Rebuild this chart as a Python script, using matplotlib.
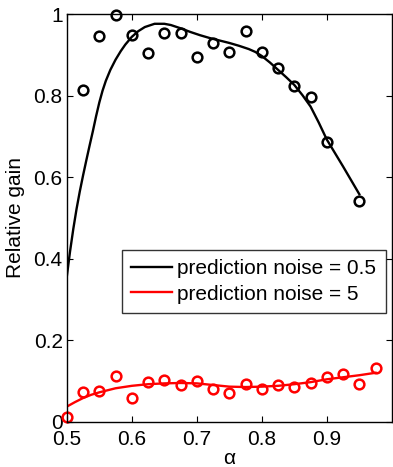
import matplotlib
matplotlib.use("Agg")
import matplotlib.pyplot as plt

plt.rcParams['font.family'] = ['Liberation Sans', 'DejaVu Sans']

# Scatter data
alpha_black = [0.525, 0.55, 0.575, 0.6, 0.625, 0.65, 0.675, 0.7, 0.725, 0.75,
               0.775, 0.8, 0.825, 0.85, 0.875, 0.9, 0.95]
gain_black = [0.814, 0.947, 0.998, 0.948, 0.904, 0.953, 0.953, 0.894, 0.929, 0.908,
              0.959, 0.906, 0.868, 0.823, 0.796, 0.686, 0.541]

alpha_red = [0.5, 0.525, 0.55, 0.575, 0.6, 0.625, 0.65, 0.675, 0.7, 0.725, 0.75,
             0.775, 0.8, 0.825, 0.85, 0.875, 0.9, 0.925, 0.95, 0.975]
gain_red = [0.012, 0.074, 0.076, 0.111, 0.057, 0.097, 0.102, 0.091, 0.100, 0.080, 0.071,
            0.092, 0.079, 0.089, 0.086, 0.095, 0.110, 0.117, 0.092, 0.132]

# Fitted curves
fit_x_black = [0.50, 0.505, 0.51, 0.515, 0.52, 0.525, 0.53, 0.535, 0.54, 0.545, 0.55,
               0.555, 0.56, 0.567, 0.575, 0.583, 0.59, 0.60, 0.61, 0.62, 0.635, 0.65,
               0.66, 0.675, 0.69, 0.705, 0.72, 0.735, 0.75, 0.765, 0.78,
               0.79, 0.80, 0.8125, 0.825, 0.8375, 0.85, 0.8625, 0.875, 0.8875, 0.90,
               0.9125, 0.925, 0.9375, 0.95]
fit_y_black = [0.356, 0.418, 0.473, 0.522, 0.565, 0.604, 0.641, 0.677, 0.712, 0.749, 0.783,
               0.812, 0.836, 0.863, 0.888, 0.909, 0.925, 0.944, 0.958, 0.968, 0.976, 0.976,
               0.973, 0.965, 0.956, 0.948, 0.941, 0.935, 0.929, 0.922, 0.914,
               0.907, 0.897, 0.881, 0.863, 0.845, 0.826, 0.801, 0.773, 0.734, 0.692,
               0.659, 0.626, 0.592, 0.558]

fit_x_red = [0.50, 0.5125, 0.525, 0.5375, 0.55, 0.5625, 0.575, 0.5875, 0.6, 0.625, 0.65,
             0.675, 0.7, 0.725, 0.75, 0.775, 0.8, 0.825, 0.85, 0.875, 0.9, 0.925,
             0.95, 0.975]
fit_y_red = [0.037, 0.048, 0.058, 0.066, 0.072, 0.077, 0.082, 0.085, 0.088, 0.092, 0.094,
             0.095, 0.094, 0.090, 0.086, 0.085, 0.086, 0.088, 0.092, 0.097, 0.104, 0.109,
             0.114, 0.120]

labels = ['prediction noise = 0.5', 'prediction noise = 5']
xticks = [0.5, 0.6, 0.7, 0.8, 0.9]
xticklabels = ['0.5', '0.6', '0.7', '0.8', '0.9']
yticks = [0, 0.2, 0.4, 0.6, 0.8, 1]
yticklabels = ['0', '0.2', '0.4', '0.6', '0.8', '1']

fig = plt.figure(figsize=(3.93, 4.67), dpi=100)
ax = fig.add_axes([0.170, 0.097, 0.827, 0.873])

l1, = ax.plot(fit_x_black, fit_y_black, color='black', lw=1.7, label=labels[0])
l2, = ax.plot(fit_x_red, fit_y_red, color='red', lw=1.7, label=labels[1])
ax.plot(alpha_black, gain_black, 'o', mfc='none', mec='black', ms=7, mew=1.8, clip_on=False)
ax.plot(alpha_red, gain_red, 'o', mfc='none', mec='red', ms=7, mew=1.8, clip_on=False)

ax.set_xlim(0.5, 1.0)
ax.set_ylim(0, 1)
ax.set_xticks(xticks)
ax.set_xticklabels(xticklabels)
ax.set_yticks(yticks)
ax.set_yticklabels(yticklabels)
ax.tick_params(direction='in', top=True, right=True, length=4, width=0.8,
               labelsize=15, colors='black')
ax.tick_params(axis='x', pad=6)
ax.tick_params(axis='y', pad=3)
for s in ax.spines.values():
    s.set_linewidth(1.0)
# keep the "0" y label just above the x tick labels
ax.get_yticklabels()[0].set_verticalalignment('center_baseline')

ax.set_xlabel('α', fontsize=15, labelpad=0)
ax.set_ylabel('Relative gain', fontsize=15, labelpad=6)

leg = ax.legend(handles=[l1, l2], loc='upper right', bbox_to_anchor=(0.981, 0.421),
                borderaxespad=0, fontsize=15, frameon=True, fancybox=False,
                edgecolor='black', handlelength=1.95, handletextpad=0.25,
                borderpad=0.45, labelspacing=0.3)
leg.get_frame().set_linewidth(1.0)

fig.savefig('out.png', dpi=100)
